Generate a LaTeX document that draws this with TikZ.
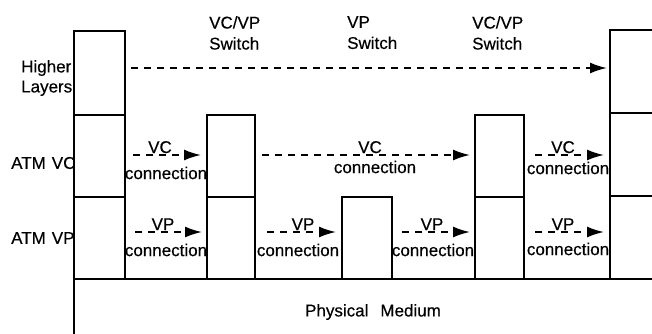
\documentclass[tikz,border=0pt]{standalone}
\usepackage{fontspec}
\setmainfont{Liberation Sans}
\newfontfamily\lblfont{Liberation Sans}[FakeBold=0.35]
\usetikzlibrary{arrows.meta,calc}

\begin{document}
\begin{tikzpicture}[x=1pt,y=-1pt,
  box/.style={draw, line width=1.7pt, inner sep=0pt, outer sep=0pt, anchor=north west},
  lbl/.style={font=\lblfont\fontsize{17}{20}\selectfont, inner sep=0pt},
  head/.style={lbl, align=left, anchor=north west, font=\lblfont\fontsize{17}{21}\selectfont},
  conn/.style={line width=1.8pt, dash pattern=on 7pt off 6pt,
    -{Latex[length=17pt,width=11pt]}},
]
\clip (0,0) rectangle (652,333);
\fill[white] (0,0) rectangle (652,333);

% physical medium (runs off the bottom and right edges)
\node[box, minimum width=640pt, minimum height=80pt] (phys) at (74,279) {};
\node[lbl] (physlbl) at (373,312) {Physical\hspace{12pt}Medium};

% left end system: higher layers, ATM VC, ATM VP
\node[box, minimum width=51pt, minimum height=84pt] (hl)  at (74,31)  {};
\node[box, minimum width=51pt, minimum height=82pt] (lvc) at (74,115) {};
\node[box, minimum width=51pt, minimum height=82pt] (lvp) at (74,197) {};

% first VC/VP switch
\node[box, minimum width=48pt, minimum height=82pt] (s1vc) at (207,115) {};
\node[box, minimum width=48pt, minimum height=82pt] (s1vp) at (207,197) {};

% VP switch
\node[box, minimum width=50pt, minimum height=82pt] (vpsw) at (342,197) {};

% second VC/VP switch
\node[box, minimum width=49pt, minimum height=82pt] (s3vc) at (475,115) {};
\node[box, minimum width=49pt, minimum height=82pt] (s3vp) at (475,197) {};

% right end system (cut by the right edge)
\node[box, minimum width=60pt, minimum height=83pt] (hr)  at (610,30)  {};
\node[box, minimum width=60pt, minimum height=83pt] (rvc) at (610,113) {};
\node[box, minimum width=60pt, minimum height=83pt] (rvp) at (610,196) {};

% layer names
\node[lbl, align=left, anchor=west] (tHL) at (21,78) {Higher\\Layers};
\node[lbl, anchor=west] (tVC) at (11,163) {ATM\hspace{6pt}VC};
\node[lbl, anchor=west] (tVP) at (11,238) {ATM\hspace{6pt}VP};

% switch headings
\node[head] (h1) at (209,16) {VC/VP\\Switch};
\node[head] (h2) at (347,16) {VP\\Switch};
\node[head] (h3) at (472,16) {VC/VP\\Switch};

% row heights of the dashed connectors
\coordinate (rowHL) at ([yshift=5pt]hl.east);
\coordinate (rowVC) at ([yshift=1pt]lvc.east);
\coordinate (rowVP) at ([yshift=6pt]lvp.east);

% higher layer end-to-end
\draw[conn] ([xshift=6pt]rowHL) -- ([xshift=-3pt]rowHL -| hr.west);

% VC connections
\draw[conn] ([xshift=8pt]rowVC) -- ([xshift=-6pt]rowVC -| s1vc.west);
\draw[conn] ([xshift=7pt]rowVC -| s1vc.east) -- ([xshift=-5pt]rowVC -| s3vc.west);
\draw[conn] ([xshift=11pt]rowVC -| s3vc.east) -- ([xshift=-6pt]rowVC -| rvc.west);

% VP connections
\draw[conn] ([xshift=10pt]rowVP) -- ([xshift=-5pt]rowVP -| s1vp.west);
\draw[conn] ([xshift=12pt]rowVP -| s1vp.east) -- ([xshift=-6pt]rowVP -| vpsw.west);
\draw[conn] ([xshift=10pt]rowVP -| vpsw.east) -- ([xshift=-5pt]rowVP -| s3vp.west);
\draw[conn] ([xshift=11pt]rowVP -| s3vp.east) -- ([xshift=-6pt]rowVP -| rvp.west);

% connector labels
\node[lbl, anchor=base] (vc1) at (160,153) {VC};
\node[lbl, anchor=base] (vc2) at (370,153) {VC};
\node[lbl, anchor=base] (vc3) at (563,153) {VC};
\node[lbl] (vcc1) at (166,173) {connection};
\node[lbl] (vcc2) at (375,167) {connection};
\node[lbl] (vcc3) at (568,168) {connection};

\node[lbl, anchor=base] (vp1) at (163,230) {VP};
\node[lbl, anchor=base] (vp2) at (303,230) {VP};
\node[lbl, anchor=base] (vp3) at (432,230) {VP};
\node[lbl, anchor=base] (vp4) at (563,230) {VP};
\node[lbl] (vpc1) at (166,250) {connection};
\node[lbl] (vpc2) at (298,250) {connection};
\node[lbl] (vpc3) at (433,250) {connection};
\node[lbl] (vpc4) at (568,249) {connection};
\end{tikzpicture}
\end{document}
